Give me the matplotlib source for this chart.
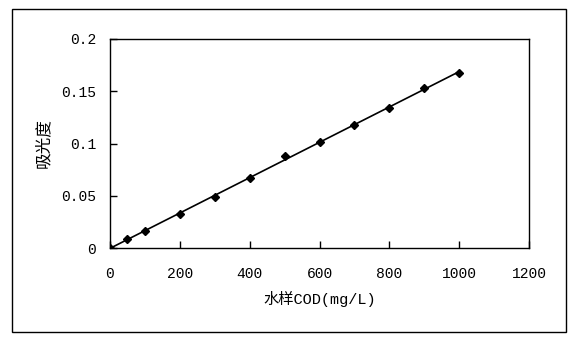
import matplotlib.pyplot as plt
import numpy as np
from matplotlib.patches import Rectangle

# 数据
cod = [0, 50, 100, 200, 300, 400, 500, 600, 700, 800, 900, 1000]
absorbance = [0, 0.0085, 0.016, 0.0325, 0.049, 0.067, 0.088, 0.101, 0.118, 0.134, 0.153, 0.1675]
x_ticks = [0, 200, 400, 600, 800, 1000, 1200]
y_ticks = [0, 0.05, 0.1, 0.15, 0.2]
y_tick_labels = ['0', '0.05', '0.1', '0.15', '0.2']

fonts = ['Liberation Mono', 'Noto Sans CJK SC', 'DejaVu Sans']
plt.rcParams['font.family'] = fonts

fig = plt.figure(figsize=(5.74, 3.40), dpi=100)
# 外框
fig.patches.append(Rectangle((12 / 574, 1 - 332 / 340), 554 / 574, 323 / 340,
                             transform=fig.transFigure, fill=False,
                             edgecolor='black', linewidth=1.0))

ax = fig.add_axes([110 / 574, 1 - 248 / 340, 419 / 574, 209 / 340])

# 线性趋势线
k, b = np.polyfit(cod, absorbance, 1)
xs = np.array([cod[0], cod[-1]])
ax.plot(xs, k * xs + b, color='black', linewidth=1.2)
ax.plot(cod, absorbance, 'D', color='black', markersize=4.5)

ax.set_xlim(0, 1200)
ax.set_ylim(0, 0.2)
ax.set_xticks(x_ticks)
ax.set_xticklabels([str(v) for v in x_ticks])
ax.set_yticks(y_ticks)
ax.set_yticklabels(y_tick_labels)
ax.tick_params(direction='in', length=5, width=1, labelsize=10.5, colors='black')
ax.tick_params(axis='x', pad=14)
ax.tick_params(axis='y', pad=10)
for s in ax.spines.values():
    s.set_linewidth(1.0)

ax.set_xlabel('水样COD(mg/L)', fontsize=11, labelpad=7)
ax.set_ylabel('吸光度', fontsize=12, labelpad=7)

plt.savefig('out.png', dpi=100)
plt.close()
